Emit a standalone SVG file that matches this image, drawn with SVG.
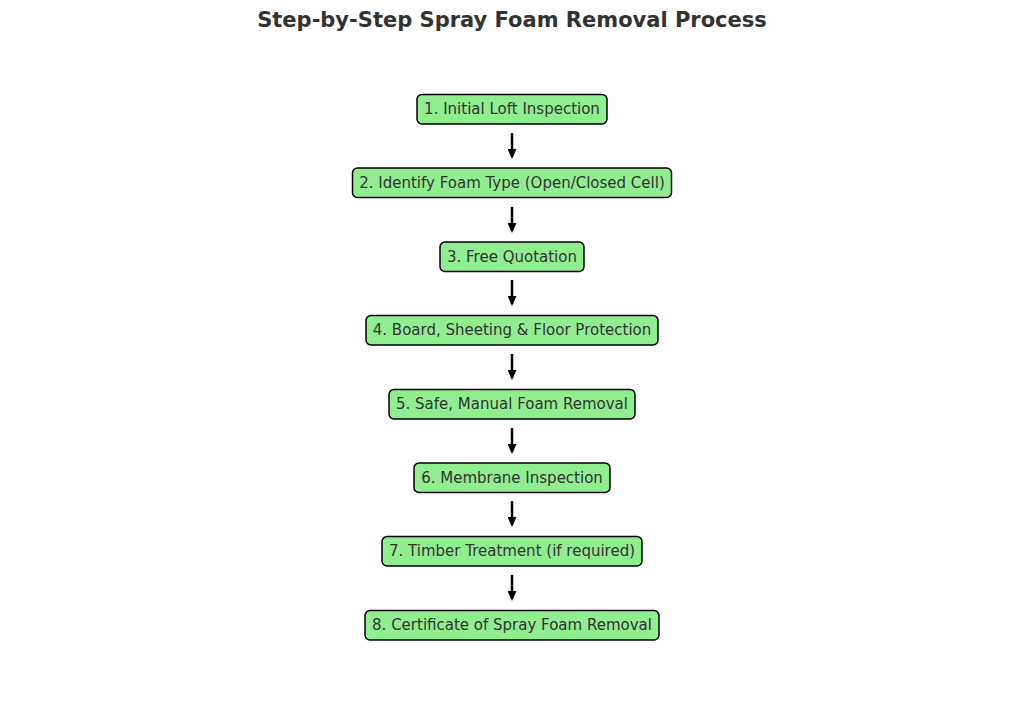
<svg xmlns="http://www.w3.org/2000/svg" width="1024" height="710" viewBox="0 0 1024 710">
<style>
.box{fill:#90ee90;stroke:#000;stroke-width:1.5}
.lbl{font-family:"DejaVu Sans",sans-serif;font-size:15px;fill:#333;text-anchor:middle;dominant-baseline:central}
.title{font-family:"DejaVu Sans",sans-serif;font-size:21px;font-weight:bold;fill:#333;text-anchor:middle}
.arr{stroke:#000;stroke-width:2.5;fill:none;marker-end:url(#ah)}
</style>
<defs>
<marker id="ah" viewBox="0 0 10 10" refX="8" refY="5" markerWidth="4" markerHeight="3.6" markerUnits="strokeWidth" orient="auto" preserveAspectRatio="none">
<path d="M0,0 L10,5 L0,10 Z" fill="#000"/>
</marker>
</defs>
<rect width="1024" height="710" fill="#fff"/>
<text class="title" x="512" y="27">Step-by-Step Spray Foam Removal Process</text>
<g id="connectors">
<line class="arr" x1="512" y1="133" x2="512" y2="157"/>
<line class="arr" x1="512" y1="207" x2="512" y2="231"/>
<line class="arr" x1="512" y1="280" x2="512" y2="304"/>
<line class="arr" x1="512" y1="354" x2="512" y2="378"/>
<line class="arr" x1="512" y1="428" x2="512" y2="452"/>
<line class="arr" x1="512" y1="501" x2="512" y2="525"/>
<line class="arr" x1="512" y1="575" x2="512" y2="599"/>
</g>
<g id="n1"><rect class="box" x="417" y="94.5" width="190" height="29.5" rx="5"/><text class="lbl" x="512" y="109">1. Initial Loft Inspection</text></g>
<g id="n2"><rect class="box" x="352.5" y="168" width="319" height="29.5" rx="5"/><text class="lbl" x="512" y="182.5">2. Identify Foam Type (Open/Closed Cell)</text></g>
<g id="n3"><rect class="box" x="440" y="242" width="144" height="29.5" rx="5"/><text class="lbl" x="512" y="256.5">3. Free Quotation</text></g>
<g id="n4"><rect class="box" x="366" y="315.5" width="292" height="29.5" rx="5"/><text class="lbl" x="512" y="330">4. Board, Sheeting &amp; Floor Protection</text></g>
<g id="n5"><rect class="box" x="389" y="389.5" width="246" height="29.5" rx="5"/><text class="lbl" x="512" y="404">5. Safe, Manual Foam Removal</text></g>
<g id="n6"><rect class="box" x="414" y="463" width="196" height="29.5" rx="5"/><text class="lbl" x="512" y="477.5">6. Membrane Inspection</text></g>
<g id="n7"><rect class="box" x="382" y="536.5" width="260" height="29.5" rx="5"/><text class="lbl" x="512" y="551">7. Timber Treatment (if required)</text></g>
<g id="n8"><rect class="box" x="365" y="610.5" width="294" height="29.5" rx="5"/><text class="lbl" x="512" y="625">8. Certificate of Spray Foam Removal</text></g>
</svg>
